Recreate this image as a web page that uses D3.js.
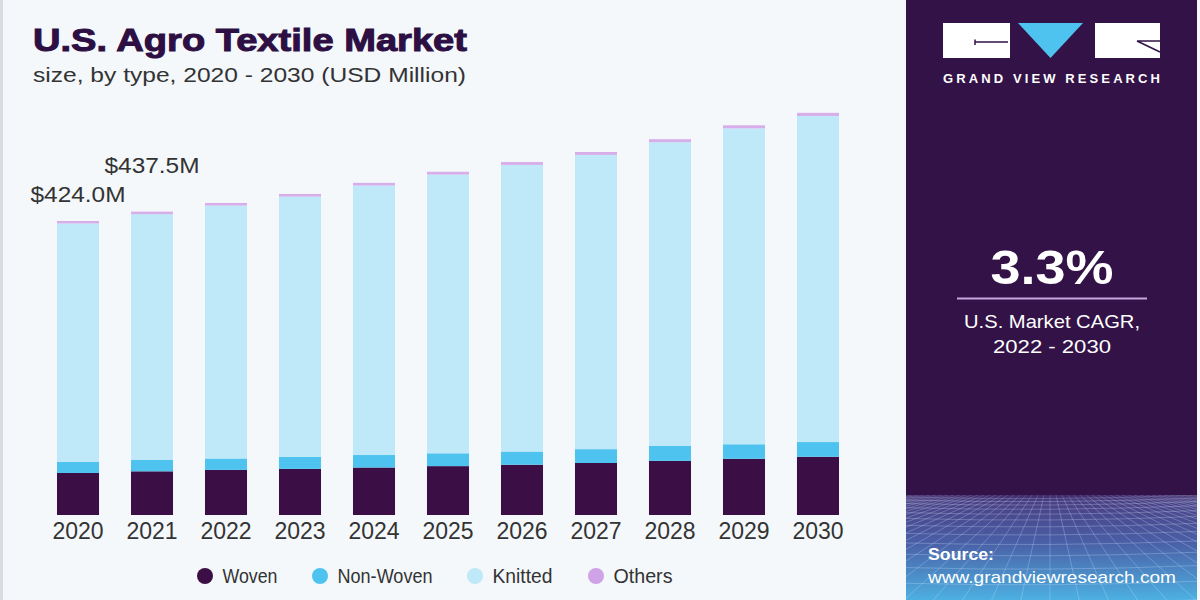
<!DOCTYPE html>
<html><head><meta charset="utf-8">
<script src="https://cdn.jsdelivr.net/npm/d3@7"></script>
<style>body{margin:0;background:#f4f8fb;}svg{display:block;}</style>
</head><body>
<svg id="c" width="1200" height="600"></svg>
<script>
// ---- data (USD Million) ----
const years = ["2020","2021","2022","2023","2024","2025","2026","2027","2028","2029","2030"];
const woven    = [60.6, 63.0, 65.0, 66.5, 68.5, 70.5, 72.5, 75.0, 78.0, 81.0, 84.0];
const nonWoven = [15.9, 16.3, 16.5, 17.3, 18.0, 18.5, 19.0, 20.0, 21.5, 21.0, 21.2];
const others   = [3.5, 3.6, 3.7, 3.8, 3.9, 4.0, 4.1, 4.2, 4.3, 4.4, 4.5];
const totals   = [424.0, 437.5, 450.0, 463.0, 479.0, 495.0, 509.0, 523.5, 542.0, 562.0, 580.0];
const knitted  = totals.map((t,i)=> +(t - woven[i] - nonWoven[i] - others[i]).toFixed(1));
const seriesNames = ["Woven","Non-Woven","Knitted","Others"];
const colors = ["#3b0f45","#4fc3ef","#bfe8f9","#d7aeea"];
const legendColors = ["#3b0f45","#4fc3ef","#bfe8f9","#cfa3e6"];
const labelYears = ["2020","2021"];

const svg = d3.select("#c");
svg.append("rect").attr("width",1200).attr("height",600).attr("fill","#f4f8fb");
svg.append("rect").attr("x",0).attr("y",0).attr("width",3).attr("height",600).attr("fill","#d9dde2");

const table = years.map((y,i)=>({year:y, "Woven":woven[i], "Non-Woven":nonWoven[i], "Knitted":knitted[i], "Others":others[i], total:totals[i]}));
const stack = d3.stack().keys(seriesNames)(table);

const x = d3.scaleBand().domain(years).range([57,839]).paddingInner(0.432).paddingOuter(0);
const y = d3.scaleLinear().domain([0,600]).range([515, 515-0.6934*600]);

const g = svg.append("g");
g.selectAll("g.s").data(stack).join("g").attr("fill",(d,i)=>colors[i])
  .selectAll("rect").data(d=>d).join("rect")
  .attr("x",d=>x(d.data.year)).attr("width",x.bandwidth())
  .attr("y",d=>y(d[1])).attr("height",d=>y(d[0])-y(d[1]));

// x axis labels
const xa = d3.axisBottom(x).tickSize(0).tickPadding(0);
const ax = svg.append("g").attr("transform","translate(0,523)").call(xa);
ax.select(".domain").remove();
ax.selectAll("text").attr("font-family","Liberation Sans, Arial, sans-serif").attr("font-size",23)
  .attr("fill","#333").attr("dy","0.71em");

// value labels
const lblOffsets = [19, 39];
labelYears.forEach((yr,i)=>{
  const idx = years.indexOf(yr);
  svg.append("text").attr("x", x(yr)+x.bandwidth()/2).attr("y", y(totals[idx]) - lblOffsets[i])
    .attr("text-anchor","middle").attr("font-family","Liberation Sans, Arial, sans-serif")
    .attr("font-size",22).attr("fill","#333").attr("textLength",95).attr("lengthAdjust","spacingAndGlyphs")
    .text("$"+totals[idx].toFixed(1)+"M");
});

// title
svg.append("text").attr("x",33).attr("y",51).attr("font-family","Liberation Sans, Arial, sans-serif")
  .attr("font-weight","bold").attr("font-size",31).attr("fill","#2d0f43")
  .attr("textLength",434).attr("lengthAdjust","spacingAndGlyphs").attr("stroke","#2d0f43").attr("stroke-width",1)
  .text("U.S. Agro Textile Market");
svg.append("text").attr("x",33).attr("y",82).attr("font-family","Liberation Sans, Arial, sans-serif")
  .attr("font-size",20).attr("fill","#333").attr("textLength",433).attr("lengthAdjust","spacingAndGlyphs")
  .text("size, by type, 2020 - 2030 (USD Million)");

// legend
const legX = [205, 320, 475, 596];
const legW = [55, 95, 60, 59];
seriesNames.forEach((n,i)=>{
  svg.append("circle").attr("cx",legX[i]).attr("cy",576).attr("r",8).attr("fill",legendColors[i]);
  svg.append("text").attr("x",legX[i]+17.5).attr("y",583).attr("font-family","Liberation Sans, Arial, sans-serif")
    .attr("font-size",19.5).attr("fill","#333").attr("textLength",legW[i]).attr("lengthAdjust","spacingAndGlyphs").text(n);
});

// right panel
const defs = svg.append("defs");
const grad = defs.append("linearGradient").attr("id","pg").attr("x1",0).attr("y1",0).attr("x2",0).attr("y2",1);
grad.append("stop").attr("offset","0%").attr("stop-color","#4a3a7e");
grad.append("stop").attr("offset","45%").attr("stop-color","#4a5fa6");
grad.append("stop").attr("offset","100%").attr("stop-color","#4db0e2");
const fade = defs.append("linearGradient").attr("id","pf").attr("x1",0).attr("y1",0).attr("x2",0).attr("y2",1);
fade.append("stop").attr("offset","0%").attr("stop-color","#331247").attr("stop-opacity",1);
fade.append("stop").attr("offset","100%").attr("stop-color","#331247").attr("stop-opacity",0);
defs.append("clipPath").attr("id","pc").append("rect").attr("x",906).attr("y",495).attr("width",291).attr("height",105);

svg.append("rect").attr("x",906).attr("y",0).attr("width",291).attr("height",600).attr("fill","#331247");
svg.append("rect").attr("x",906).attr("y",495).attr("width",291).attr("height",105).attr("fill","url(#pg)");
// perspective grid
const gridG = svg.append("g").attr("clip-path","url(#pc)").attr("stroke","#cfe6ff").attr("stroke-opacity",0.35).attr("stroke-width",0.8).attr("fill","none");
const vx = 1050, vy = 470;
for(let k=-30;k<=30;k++){
  gridG.append("line").attr("x1",vx + k*6).attr("y1",495).attr("x2",vx + k*38).attr("y2",640);
}
let yy = 497, step = 3;
while(yy < 610){ gridG.append("path").attr("d",`M906,${yy} Q1050,${yy+4} 1197,${yy-2}`); yy += step; step *= 1.18; }
svg.append("rect").attr("x",906).attr("y",495).attr("width",291).attr("height",6).attr("fill","url(#pf)").attr("opacity",0.4);

// logo
svg.append("rect").attr("x",943).attr("y",23).attr("width",67).attr("height",35).attr("fill","#fff");
svg.append("path").attr("d","M1018,23 L1083,23 L1050.5,58 Z").attr("fill","#4fc3ef");
svg.append("rect").attr("x",1095).attr("y",23).attr("width",65).attr("height",35).attr("fill","#fff");
svg.append("path").attr("d","M975,42 L1008,42 M975,39.5 L975,45").attr("stroke","#331247").attr("stroke-width",1.5);
svg.append("path").attr("d","M1137,41 L1160,41 M1137,41 L1160,52").attr("stroke","#331247").attr("stroke-width",1.5);
svg.append("text").attr("x",943).attr("y",83).attr("font-family","Liberation Sans, Arial, sans-serif")
  .attr("font-weight","bold").attr("font-size",13).attr("fill","#fff").attr("textLength",217).attr("lengthAdjust","spacing")
  .text("GRAND VIEW RESEARCH");

// CAGR
svg.append("text").attr("x",1052).attr("y",284).attr("text-anchor","middle").attr("font-family","Liberation Sans, Arial, sans-serif")
  .attr("font-weight","bold").attr("font-size",48).attr("fill","#fff").attr("textLength",123).attr("lengthAdjust","spacingAndGlyphs").text("3.3%");
svg.append("line").attr("x1",957).attr("x2",1147).attr("y1",298.5).attr("y2",298.5).attr("stroke","#c7a5df").attr("stroke-width",2);
svg.append("text").attr("x",1052).attr("y",328).attr("text-anchor","middle").attr("font-family","Liberation Sans, Arial, sans-serif")
  .attr("font-size",19).attr("fill","#fff").attr("textLength",176).attr("lengthAdjust","spacingAndGlyphs").text("U.S. Market CAGR,");
svg.append("text").attr("x",1052).attr("y",353).attr("text-anchor","middle").attr("font-family","Liberation Sans, Arial, sans-serif")
  .attr("font-size",19).attr("fill","#fff").attr("textLength",118).attr("lengthAdjust","spacingAndGlyphs").text("2022 - 2030");

// source
svg.append("text").attr("x",928).attr("y",560).attr("font-family","Liberation Sans, Arial, sans-serif")
  .attr("font-weight","bold").attr("font-size",17).attr("fill","#fff").attr("textLength",66).attr("lengthAdjust","spacingAndGlyphs").text("Source:");
svg.append("text").attr("x",928).attr("y",583).attr("font-family","Liberation Sans, Arial, sans-serif")
  .attr("font-size",17).attr("fill","#fff").attr("textLength",248).attr("lengthAdjust","spacingAndGlyphs").text("www.grandviewresearch.com");
</script>
</body></html>
